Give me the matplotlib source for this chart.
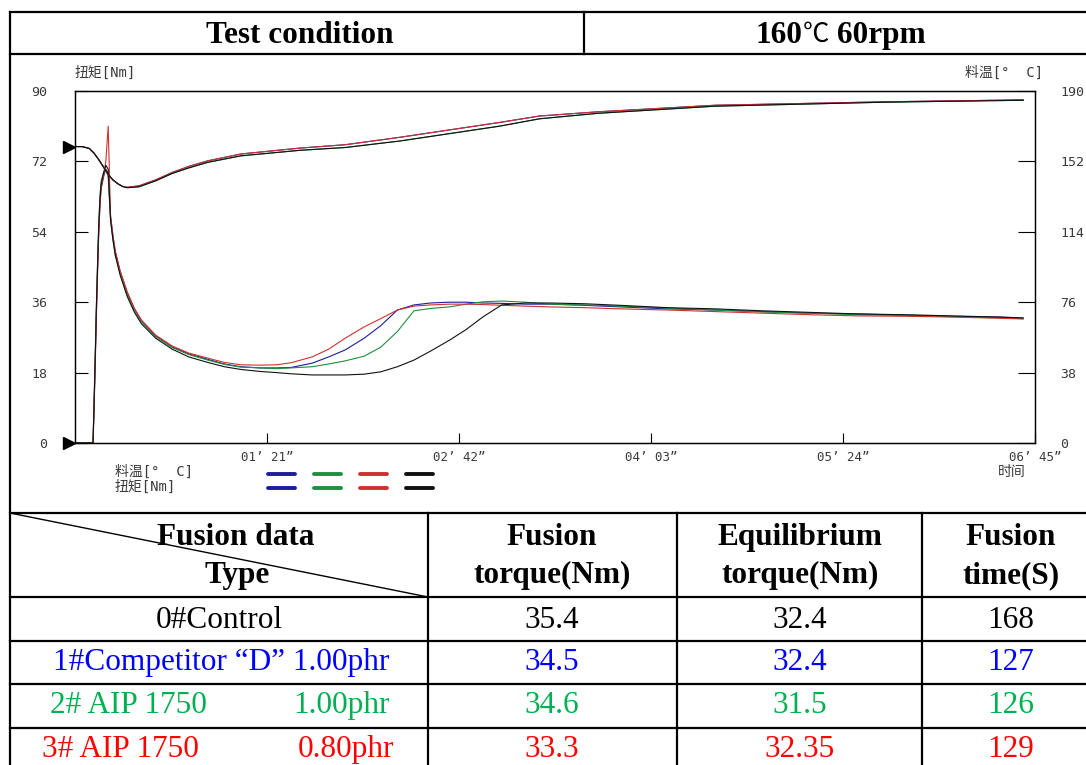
import matplotlib.pyplot as plt
from matplotlib import transforms

# torque curves (Nm), left axis, time in seconds
t_torque = [0, 7.6, 8.0, 8.5, 9.0, 9.5, 10.0, 10.5, 11.0, 12.0, 13.0, 14.0, 15.0, 16.0, 17.0,
            19.0, 22.0, 25.0, 28.0, 34.0, 41.0, 48.0, 56.0, 63.0, 70.0,
            78, 85, 91, 100, 107, 114, 122, 129, 136, 143, 150, 158, 165, 172, 180,
            190, 200, 215, 230, 250, 270, 290, 310, 330, 350, 370, 390, 400]
torque_black = [0, 0, 9, 21, 34, 45, 55, 62, 66, 69, 71, 70, 57, 52, 48, 43, 37.5, 33.5, 30.5, 26.8,
                24, 22, 20.6, 19.5, 18.8,
                18.3, 18, 17.7, 17.4, 17.4, 17.4, 17.6, 18.2, 19.5, 21.2, 23.5, 26.3, 29, 32.2, 35.3,
                35.8, 35.8, 35.6, 35.2, 34.6, 34.3, 33.8, 33.4, 33, 32.8, 32.5, 32.2, 32]
torque_blue = [0, 0, 8, 20, 33, 44, 54, 61, 65, 68, 70, 69, 58, 53, 49, 44, 38.5, 34.3, 31.2, 27.4,
               24.6, 22.8, 21.4, 20.2, 19.5,
               19.2, 19.2, 19.3, 20.4, 22, 23.8, 26.8, 30, 34, 35.3, 35.8, 36, 36, 35.8, 35.7,
               35.5, 35.5, 35.2, 34.8, 34.3, 34, 33.6, 33.2, 33, 32.7, 32.4, 32.2, 31.9]
torque_green = [0, 0, 10, 22, 35, 46, 56, 63, 67, 69, 70, 68, 57, 52, 48, 43.5, 38, 34, 31, 27.2,
                24.4, 22.6, 21.2, 20.1, 19.4,
                19.2, 19, 19.2, 19.5, 20.2, 21, 22.2, 24.5, 28.5, 33.8, 34.4, 34.8, 35.5, 36.1, 36.3,
                36, 35.5, 35.3, 35, 34.5, 34, 33.5, 33.2, 32.8, 32.6, 32.3, 32, 31.8]
torque_red = [0, 0, 8, 19, 32, 43, 53, 60, 65, 68, 72, 81, 58, 53, 49, 44, 38.7, 34.5, 31.5, 27.6,
              24.8, 23, 21.7, 20.6, 20,
              19.9, 20, 20.5, 22, 24, 26.8, 29.7, 31.8, 34, 35, 35.3, 35.5, 35.5, 35.4, 35.2,
              35, 34.8, 34.6, 34.3, 34, 33.6, 33.2, 32.8, 32.5, 32.4, 32.2, 31.9, 31.7]

# melt temperature curves (deg C), right axis
t_temp = [0, 3, 6, 8, 10, 12, 14, 16, 18, 20, 22, 27, 34, 41, 48, 56, 70, 95, 114, 137, 158,
          179, 196, 221, 270, 343, 400]
temp_rb = [160, 160, 159, 156.5, 153, 149, 145, 142, 140, 138.5, 138, 138.8, 142, 146, 149.3,
           152.3, 156, 159.2, 161, 165, 169, 173, 176.5, 178.8, 182.3, 184.2, 185.2]
temp_kg = [160, 160, 159, 156.5, 153, 149, 145, 142, 140, 138.5, 137.8, 138.3, 141.5, 145.5,
           148.5, 151.5, 155, 158, 159.5, 163, 167, 171, 175, 178, 181.8, 184, 185]

line_colors = ['#1c1c9c', '#1f8f3f', '#d03030', '#111111']
torques = [torque_blue, torque_green, torque_red, torque_black]
temps = [temp_rb, temp_kg, temp_rb, temp_kg]

x_ticks = [81, 162, 243, 324, 405]
x_labels = ['01’ 21”', '02’ 42”', '04’ 03”', '05’ 24”', '06’ 45”']
y_ticks = [0, 18, 36, 54, 72, 90]
y2_ticks = [0, 38, 76, 114, 152, 190]

# fusion table
col_headers = [('Fusion', 'torque(Nm)'), ('Equilibrium', 'torque(Nm)'), ('Fusion', 'time(S)')]
fusion_torque = ['35.4', '34.5', '34.6', '33.3']
equil_torque = ['32.4', '32.4', '31.5', '32.35']
fusion_time = ['168', '127', '126', '129']
text_colors = ['black', '#0000ff', '#00b050', '#ff0000']

plt.rcParams['font.family'] = ['DejaVu Sans', 'Noto Sans CJK SC']
serif = ['Liberation Serif', 'Noto Sans CJK SC']
cjk = ['DejaVu Sans Mono', 'Noto Sans CJK SC']
grey = '#3a3a3a'

fig = plt.figure(figsize=(10.86, 7.65), dpi=100)
bg = fig.add_axes([0, 0, 1, 1])
bg.set_xlim(0, 1086)
bg.set_ylim(765, 0)
bg.axis('off')

# table frame
lw = 1.6
for y in [12, 54, 513, 597, 641, 684, 728]:
    bg.plot([10, 1086], [y, y], color='black', lw=lw)
bg.plot([10, 10], [12, 765], color='black', lw=lw)
bg.plot([584, 584], [12, 54], color='black', lw=lw)
for x in [428, 677, 922]:
    bg.plot([x, x], [513, 765], color='black', lw=lw)
bg.plot([10, 428], [513, 597], color='black', lw=1.0)

bg.text(300, 43, 'Test condition', family=serif, weight='bold', size=22.5, ha='center', va='baseline')
t1 = bg.text(755, 43, '160', family=serif, weight='bold', size=22.5, ha='left', va='baseline')
t2 = bg.annotate('℃', xy=(1, 0), xycoords=t1, xytext=(0.5, 1.5), textcoords='offset points',
                 family=['Noto Sans CJK SC'], weight='light', size=19, ha='left', va='bottom')
bg.annotate(' 60rpm', xy=(1, 0), xycoords=t2, xytext=(0, -1.5), textcoords='offset points',
            family=serif, weight='bold', size=22.5, ha='left', va='bottom')

bg.text(236, 545, 'Fusion data', family=serif, weight='bold', size=22.5, ha='center', va='baseline')
bg.text(237, 583, 'Type', family=serif, weight='bold', size=22.5, ha='center', va='baseline')
col_x = [552, 800, 1011]
for cx, (h1, h2) in zip(col_x, col_headers):
    bg.text(cx, 545, h1, family=serif, weight='bold', size=22.5, ha='center', va='baseline')
    bg.text(cx, 583, h2, family=serif, weight='bold', size=22.5, ha='center', va='baseline')

row_base = [628, 670, 713, 757]
kw = dict(family=serif, size=22.5, va='baseline')
bg.text(219, row_base[0], '0#Control', color=text_colors[0], ha='center', **kw)
bg.text(221, row_base[1], '1#Competitor “D” 1.00phr', color=text_colors[1], ha='center', **kw)
bg.text(50, row_base[2], '2# AIP 1750', color=text_colors[2], ha='left', **kw)
bg.text(293, row_base[2], '1.00phr', color=text_colors[2], ha='left', **kw)
bg.text(42, row_base[3], '3# AIP 1750', color=text_colors[3], ha='left', **kw)
bg.text(298, row_base[3], '0.80phr', color=text_colors[3], ha='left', **kw)
for i in range(4):
    for cx, col in zip(col_x, [fusion_torque, equil_torque, fusion_time]):
        bg.text(cx, row_base[i], col[i], color=text_colors[i], ha='center', **kw)

# rheometer chart
ax = fig.add_axes([75 / 1086, 1 - 443 / 765, 960 / 1086, 352 / 765])
ax2 = ax.twinx()
for c, tq, tp in zip(line_colors, torques, temps):
    ax.plot(t_torque, tq, color=c, lw=0.8)
    ax2.plot(t_temp, tp, color=c, lw=0.8)

ax.set_xlim(0, 405)
ax.set_ylim(0, 90)
ax2.set_ylim(0, 190)
ax.set_xticks(x_ticks)
ax.set_xticklabels(x_labels)
ax.set_yticks(y_ticks)
ax2.set_yticks(y2_ticks)
ax.tick_params(axis='y', direction='in', length=9, pad=20, labelsize=9.5, labelcolor=grey,
               labelfontfamily='DejaVu Sans Mono')
ax.tick_params(axis='x', direction='in', length=7, pad=6, labelsize=9, labelcolor=grey,
               labelfontfamily='DejaVu Sans Mono')
ax2.tick_params(axis='y', direction='in', length=12, pad=18, labelsize=9.5, labelcolor=grey,
                labelfontfamily='DejaVu Sans Mono')
for a in (ax, ax2):
    for s in a.spines.values():
        s.set_linewidth(0.9)

# start markers
tr = transforms.blended_transform_factory(ax.transAxes, ax.transData)
ax.plot([-0.0065], [0], marker='>', ms=9, color='black', transform=tr, clip_on=False)
tr2 = transforms.blended_transform_factory(ax2.transAxes, ax2.transData)
ax2.plot([-0.0065], [temp_rb[0]], marker='>', ms=9, color='black', transform=tr2, clip_on=False)

lab = dict(family=cjk, size=10, color=grey, va='center')
bg.text(75, 73, '扭矩[Nm]', **lab)
bg.text(965, 73, '料温[°  C]', **lab)
bg.text(1012, 472, '时间', ha='center', **lab)
bg.text(115, 472, '料温[°  C]', **lab)
bg.text(115, 487, '扭矩[Nm]', **lab)
for i, c in enumerate(line_colors):
    x0 = 268 + i * 46
    for y in [474, 488]:
        bg.plot([x0, x0 + 27], [y, y], color=c, lw=2.8, solid_capstyle='round')

fig.savefig('out.png', dpi=100)
